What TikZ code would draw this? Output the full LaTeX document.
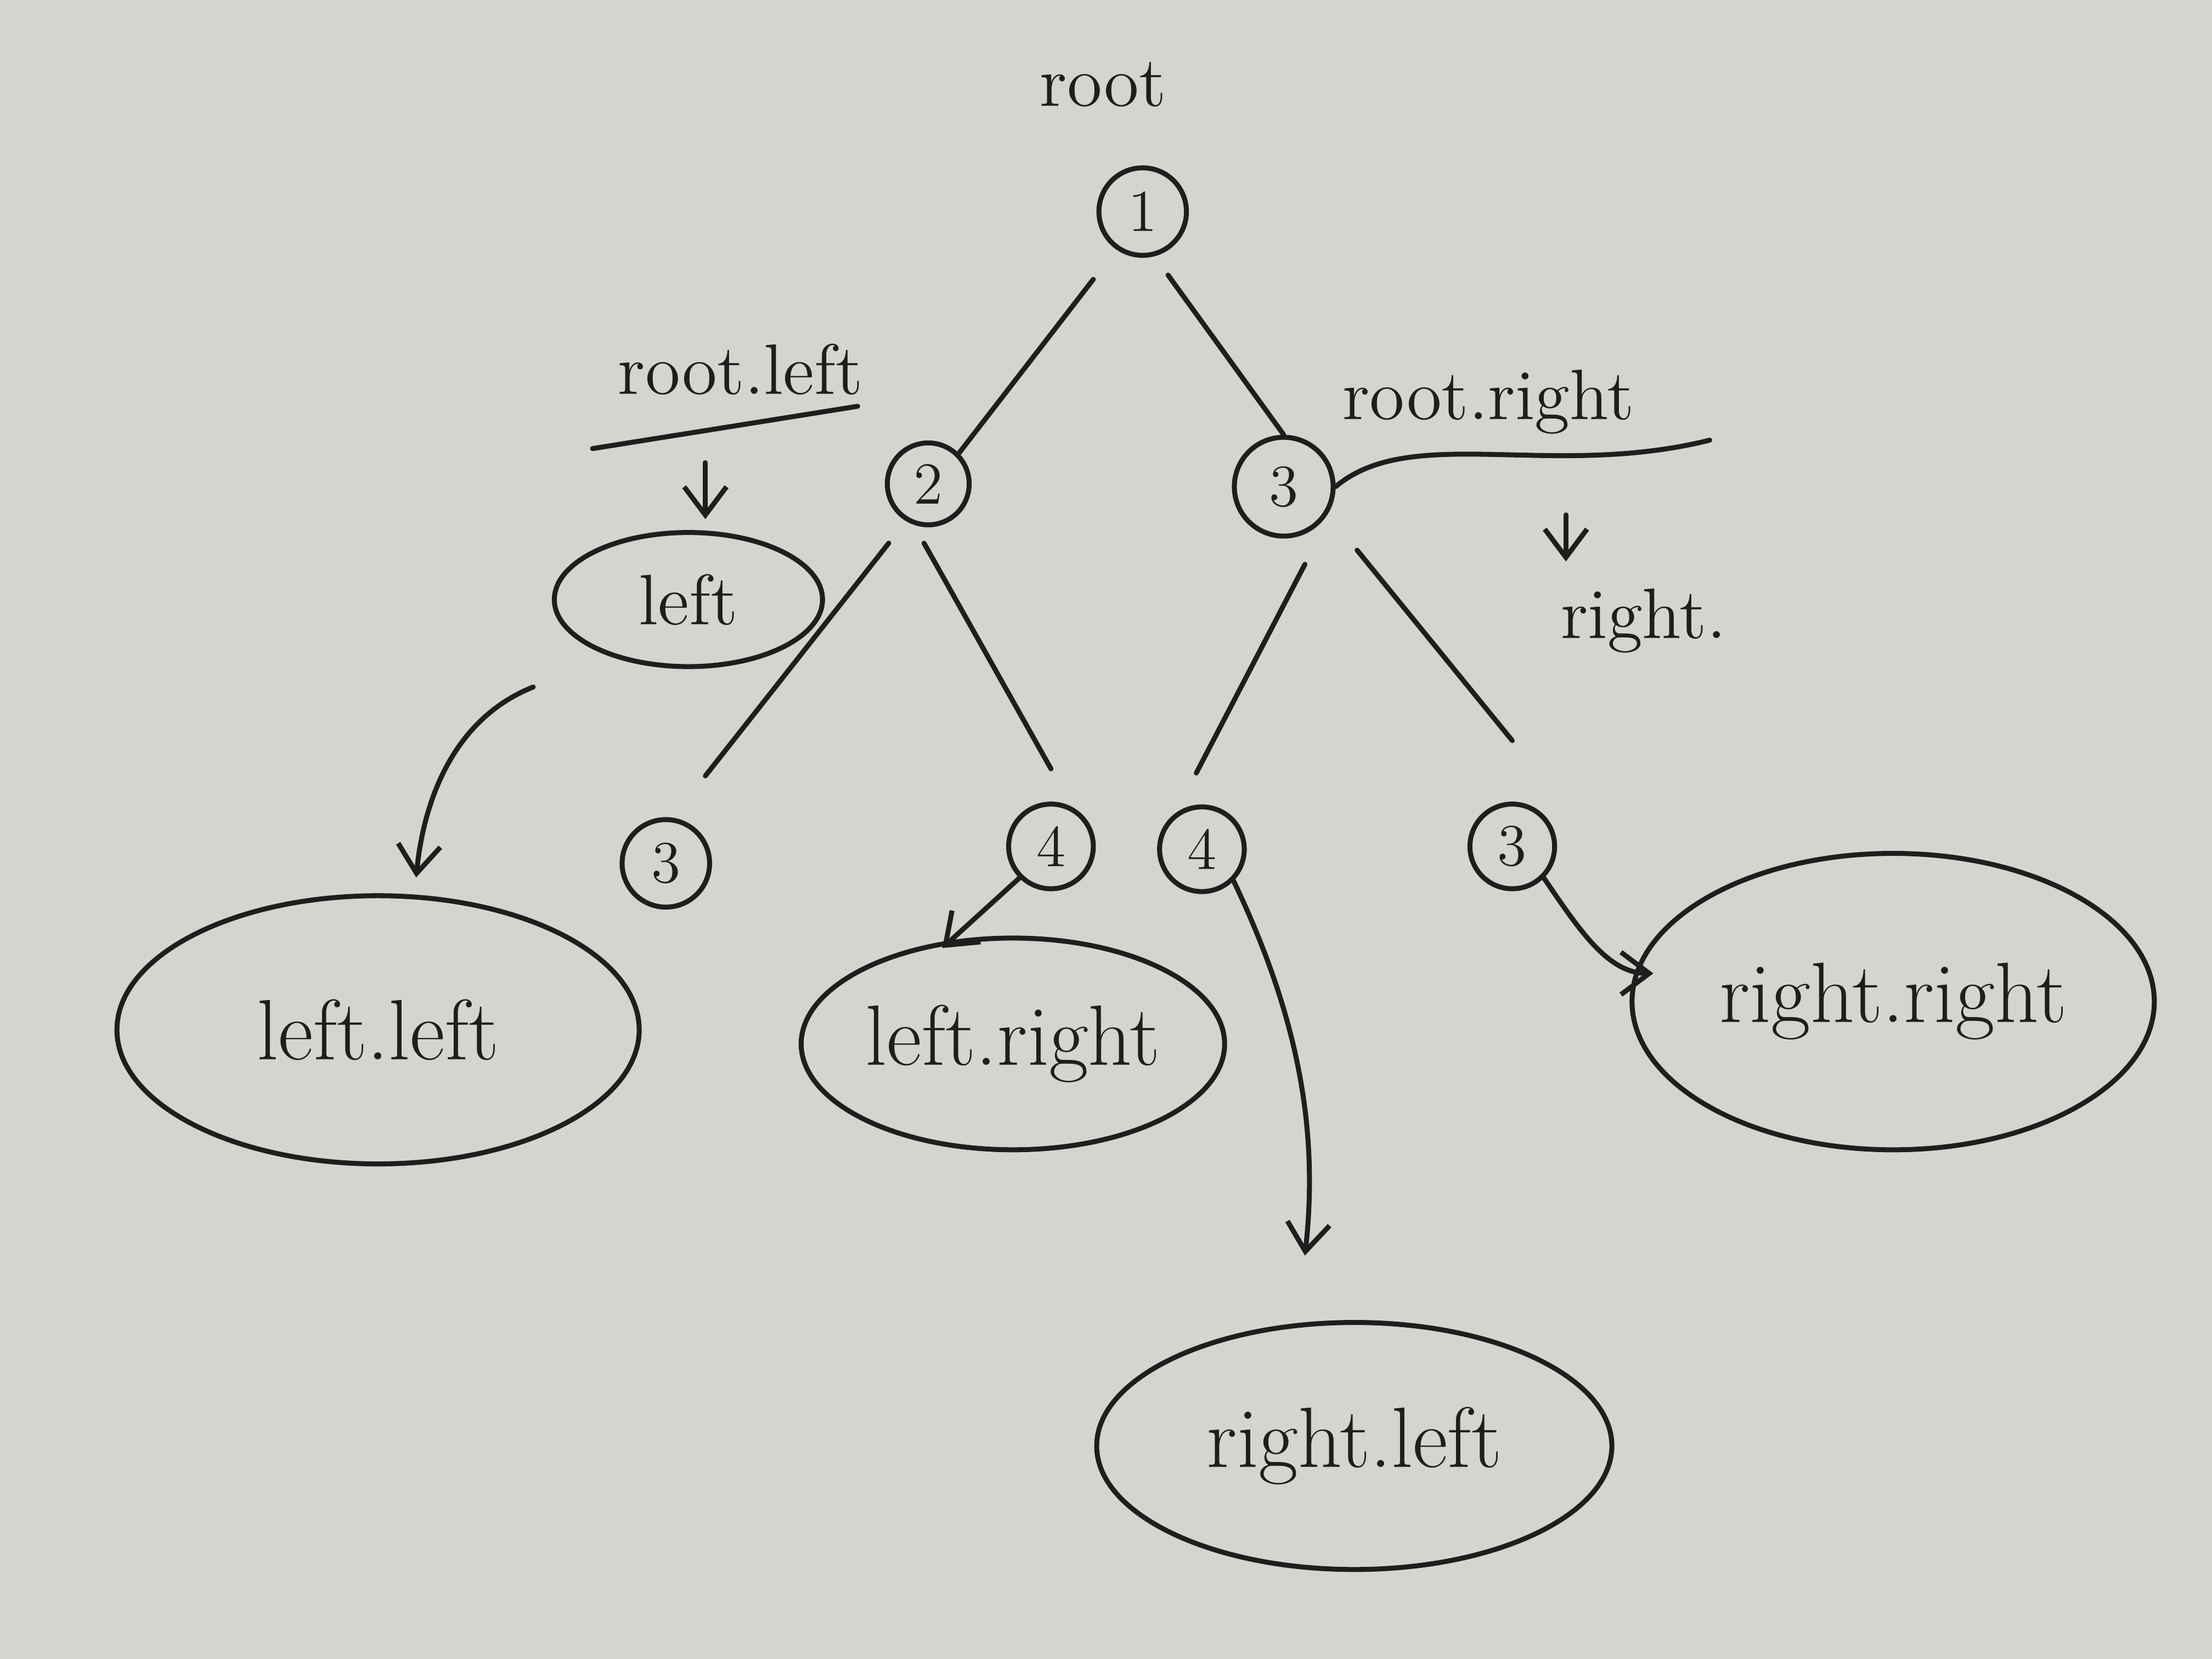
\documentclass[tikz,border=0pt]{standalone}
\usetikzlibrary{arrows.meta,shapes.geometric}
\definecolor{paper}{RGB}{214,212,206}
\definecolor{ink}{RGB}{30,30,30}
\tikzset{
  pen/.style={draw=ink,line width=1pt,line cap=round},
  num/.style={pen,circle,minimum size=0.6cm,inner sep=0pt,font=\large,text=ink},
  blob/.style={pen,ellipse,inner sep=0pt,font=\LARGE,text=ink},
  lbl/.style={font=\Large,text=ink},
  arr/.style={pen,-{Straight Barb[length=2mm,width=3mm]}}
}
\begin{document}
\begin{tikzpicture}[x=0.01cm,y=-0.01cm]
\fill[paper] (0,0) rectangle (1568,1176);
\useasboundingbox (0,0) rectangle (1568,1176);
\node[lbl] (rootlbl) at (782,60) {root};
\node[num,minimum size=0.62cm] (n1) at (810,150) {1};
\node[num,minimum size=0.58cm] (n2) at (658,343) {2};
\node[num,minimum size=0.7cm] (n3) at (910,345) {3};
\node[num,minimum size=0.62cm] (a3) at (472,612) {3};
\node[num,minimum size=0.6cm] (a4) at (745,600) {4};
\node[num,minimum size=0.6cm] (b4) at (852,602) {4};
\node[num,minimum size=0.6cm] (b3) at (1072,600) {3};
\coordinate (e1a) at (775,198); \coordinate (e2a) at (828,195);
\draw[pen] (e1a) -- (n2.north east);
\draw[pen] (e2a) -- (n3.north);
\coordinate (e3a) at (630,385); \coordinate (e3b) at (500,550);
\coordinate (e4a) at (655,385); \coordinate (e4b) at (745,545);
\coordinate (e5a) at (925,400); \coordinate (e5b) at (848,548);
\coordinate (e6a) at (962,390); \coordinate (e6b) at (1072,525);
\draw[pen] (e3a) -- (e3b);
\draw[pen] (e4a) -- (e4b);
\draw[pen] (e5a) -- (e5b);
\draw[pen] (e6a) -- (e6b);
% root.left
\node[lbl] (rl) at (525,262) {root.left};
\coordinate (ul1) at (420,318); \coordinate (ul2) at (608,288);
\draw[pen] (ul1) -- (ul2);
\node[blob,minimum width=1.9cm,minimum height=0.95cm,font=\Large] (left) at (488,425) {left};
\coordinate (la) at (500,328); \coordinate (lb) at (500,368);
\draw[arr] (la) -- (lb);
% root.right
\node[lbl] (rr) at (1055,285) {root.right};
\coordinate (rc) at (1212,312);
\draw[pen] (n3.east) .. controls (1000,300) and (1100,340) .. (rc);
\coordinate (ra) at (1110,365); \coordinate (rb) at (1110,398);
\draw[arr] (ra) -- (rb);
\node[lbl] (right) at (1165,440) {right.};
% blobs
\node[blob,minimum width=3.7cm,minimum height=1.9cm] (ll) at (268,730) {left.left};
\node[blob,minimum width=3.0cm,minimum height=1.5cm] (lr) at (718,740) {left.right};
\node[blob,minimum width=3.7cm,minimum height=2.1cm] (rrb) at (1342,710) {right.right};
\node[blob,minimum width=3.65cm,minimum height=1.75cm] (rlb) at (960,1025) {right.left};
\coordinate (c1) at (378,487); \coordinate (c2) at (295,622);
\draw[arr] (c1) .. controls (320,510) and (300,570) .. (c2);
\coordinate (lra) at (668,672);
\draw[arr] (a4.south west) -- (lra);
\coordinate (rra) at (1172,690);
\draw[arr] (b3.south east) .. controls (1120,660) and (1140,690) .. (rra);
\coordinate (rla) at (925,890);
\draw[arr] (b4.south east) .. controls (920,720) and (935,800) .. (rla);
\end{tikzpicture}
\end{document}
